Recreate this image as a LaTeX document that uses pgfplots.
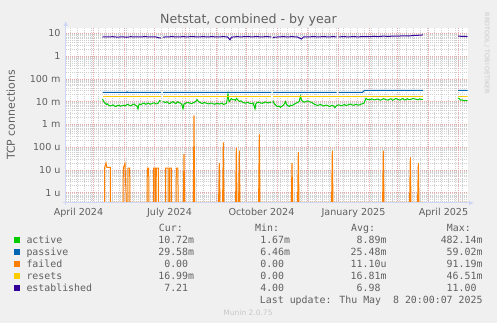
\documentclass[border=0pt]{standalone}
\usepackage{fontspec}
\setmainfont{DejaVu Sans}
\newfontfamily\monofont{DejaVu Sans Mono}
\usepackage{pgfplots}
\pgfplotsset{compat=1.18}
\usetikzlibrary{arrows.meta}
\definecolor{bgc}{HTML}{F0F0F0}
\definecolor{fontc}{HTML}{606060}
\definecolor{axisc}{HTML}{CFD6F8}
\definecolor{mgrid}{HTML}{E8A8A8}
\definecolor{mingrid}{HTML}{D0D0D0}
\definecolor{faint}{HTML}{C8C8C8}
\definecolor{cactive}{HTML}{00CC00}
\definecolor{cpassive}{HTML}{0066B3}
\definecolor{cfailed}{HTML}{FF8000}
\definecolor{cresets}{HTML}{FFCC00}
\definecolor{cestab}{HTML}{330099}
\newcommand\lf{\monofont\fontsize{9.9bp}{12bp}\selectfont}
\begin{document}
\begin{tikzpicture}
\fill[bgc] (0,0) rectangle (497bp,323bp);
\useasboundingbox (0,0) rectangle (497bp,323bp);
\begin{axis}[
  at={(65.7bp,120bp)}, anchor=south west, scale only axis,
  width=402bp, height=175bp,
  xmin=2.2, xmax=404.2,
  ymode=log, ymin=3.5e-7, ymax=17.1,
  axis line style={draw=none},
  axis background/.style={fill=white},
  xtick={15,106,198,290,380},
  xticklabels={April 2024,July 2024,October 2024,January 2025,April 2025},
  xmajorgrids=false,
  minor xtick={0,7,...,406}, xminorgrids=true,
  extra x ticks={0,30,61,91,122,153,183,214,244,275,306,334,365,395},
  extra x tick labels={},
  extra x tick style={grid=major},
  ytick={1e-6,1e-5,1e-4,1e-3,1e-2,1e-1,1,10},
  yticklabels={1 u,10 u,100 u,1 m,10 m,100 m,1\hspace{7bp},10\hspace{7bp}},
  minor ytick={4e-7,5e-7,6e-7,7e-7,8e-7,9e-7,2e-6,3e-6,4e-6,5e-6,6e-6,7e-6,8e-6,9e-6,2e-5,3e-5,4e-5,5e-5,6e-5,7e-5,8e-5,9e-5,2e-4,3e-4,4e-4,5e-4,6e-4,7e-4,8e-4,9e-4,2e-3,3e-3,4e-3,5e-3,6e-3,7e-3,8e-3,9e-3,0.02,0.03,0.04,0.05,0.06,0.07,0.08,0.09,0.2,0.3,0.4,0.5,0.6,0.7,0.8,0.9,2,3,4,5,6,7,8,9},
  ymajorgrids=true, yminorgrids=true,
  major grid style={mgrid, dash pattern=on 1bp off 1bp, line width=0.6bp},
  minor grid style={mingrid, dash pattern=on 1bp off 1bp, line width=0.6bp},
  major tick length=0pt, minor tick length=0pt,
  tick label style={font=\fontsize{9.6bp}{11bp}\selectfont, color=fontc},
  yticklabel style={inner sep=0pt, anchor=east, xshift=-5bp},
  xticklabel style={inner sep=0pt, anchor=north, yshift=-5.3bp},
  unbounded coords=jump,
  every axis plot/.append style={line width=1bp},
]
% active
\addplot[cactive] coordinates {(39,13e-3)(40,10.5e-3)(41,9e-3)(42,8.1e-3)(43,7.5e-3)(44,7.9e-3)(45,7e-3)(46.5,6.5e-3)(48,6.6e-3)(49.5,7.2e-3)(51,6.4e-3)(52.5,6.1e-3)(54,6.8e-3)(55.5,6.9e-3)(57,6.3e-3)(58.5,6.6e-3)(60,6.9e-3)(61.5,6.4e-3)(63,7.2e-3)(64.5,7.5e-3)(66,6.8e-3)(67.5,6.5e-3)(69,7.4e-3)(70.5,7.8e-3)(72,6.9e-3)(73.5,6.4e-3)(74.5,4.8e-3)(75.3,7.1e-3)(76,7.8e-3)(77.5,7.3e-3)(79,8.2e-3)(80.5,8.6e-3)(82,7.6e-3)(83.5,8e-3)(85,8.5e-3)(86.5,7.7e-3)(88,7.9e-3)(89.5,8.6e-3)(91,8.8e-3)(92.5,7.9e-3)(94,8.1e-3)(95,9e-3)(96,11e-3)(97.3,10.5e-3)(98,nan)
(99.3,10e-3)(100.5,9.6e-3)(102,9.2e-3)(103.5,9.8e-3)(105,8.6e-3)(106.5,8.2e-3)(108,9.4e-3)(109.5,9.9e-3)(111,8.7e-3)(112.5,8.3e-3)(114,9.8e-3)(115.5,9.1e-3)(117,8.4e-3)(118.3,7.6e-3)(119.5,4.8e-3)(120.5,7.9e-3)(122,8.3e-3)(123.5,9.2e-3)(125,9e-3)(126.5,8.5e-3)(128,8.1e-3)(129.5,8.8e-3)(131,9.3e-3)(132.3,10.2e-3)(133.5,12.2e-3)(134.8,10.4e-3)(136,9.5e-3)(137.5,8.7e-3)(139,8.2e-3)(140.5,9.1e-3)(142,8.8e-3)(143.5,8.2e-3)(145,7.9e-3)(146.5,8.4e-3)(148,8.6e-3)(149.5,8e-3)(151,7.6e-3)(152.5,8.1e-3)(154,8.4e-3)(155.5,7.8e-3)(157,8e-3)(158.5,8.5e-3)(160,7.5e-3)(161.5,7.9e-3)(163,8.2e-3)(164.5,22e-3)(165.3,11e-3)(166,10e-3)(167,12.5e-3)(168,13.5e-3)(169.5,11.8e-3)(171,12.4e-3)(172,11.2e-3)(173,13.8e-3)(174.5,11.6e-3)(176,10.2e-3)(177.5,10.8e-3)(179,9.4e-3)(180.5,8.9e-3)(182,8.5e-3)(183.5,9.3e-3)(185,8.9e-3)(186.5,8.3e-3)(188,8.2e-3)(189.5,8.8e-3)(191.5,4.8e-3)(192.3,7.9e-3)(193,8.6e-3)(194.5,9.4e-3)(196,9.2e-3)(197.5,8.6e-3)(199,8.4e-3)(200.5,9.1e-3)(202,9.6e-3)(203.5,9e-3)(205,8.8e-3)(206.5,9.5e-3)(207.8,9.1e-3)(208.5,nan)
(209.3,11e-3)(210.5,8.4e-3)(212,7.2e-3)(213,6.5e-3)(214,6e-3)(215.5,6.4e-3)(217,5.6e-3)(218.5,6.3e-3)(220,7e-3)(221,8.2e-3)(222,10e-3)(223,7.5e-3)(224,6.8e-3)(225,6.4e-3)(226,6.2e-3)(227,7e-3)(228,6.6e-3)(229.5,7.1e-3)(231,7.8e-3)(232.5,8.4e-3)(234,9.2e-3)(235.5,9.8e-3)(237,17e-3)(238,11.5e-3)(239,10.5e-3)(240.5,9.4e-3)(242,9.8e-3)(243.5,10.6e-3)(245,10.3e-3)(246.5,9.6e-3)(248,9.4e-3)(249.5,8.4e-3)(251,7.6e-3)(252.5,7.2e-3)(254,6.8e-3)(255.5,7.1e-3)(257,7.4e-3)(258.5,6.9e-3)(260,6.4e-3)(261.5,6.8e-3)(263,7e-3)(264.5,6.6e-3)(266,6.1e-3)(267.5,6.5e-3)(269,6.9e-3)(270.3,6.2e-3)(271.5,5.4e-3)(272.3,6.1e-3)(273,6.5e-3)(274,6.9e-3)(275,7.2e-3)(276.5,6.9e-3)(278,6.6e-3)(279.5,7e-3)(281,7.4e-3)(282.5,6.8e-3)(284,7e-3)(285.5,7.4e-3)(287,7.8e-3)(288.5,7.2e-3)(290,6.9e-3)(291.5,7.3e-3)(293,7.6e-3)(294.5,7e-3)(296,7.2e-3)(297.5,7.7e-3)(299,8e-3)(300.5,8.6e-3)(302.5,13.8e-3)(303.8,12.4e-3)(305,12.6e-3)(306.5,11.9e-3)(308,13.2e-3)(309.5,12.5e-3)(311,11.8e-3)(312.5,12.4e-3)(314,12.9e-3)(315.5,12.2e-3)(317,11.6e-3)(318.5,12.3e-3)(320,13.4e-3)(321.5,12.6e-3)(323,12.1e-3)(324.5,11.5e-3)(326,12.8e-3)(327.5,13.3e-3)(329,11.4e-3)(330.5,12.1e-3)(332,13.6e-3)(333.5,12.9e-3)(335,12.2e-3)(336.5,11.6e-3)(338,12.9e-3)(339.5,13.5e-3)(341,11.7e-3)(342.5,12.4e-3)(344,13.3e-3)(345.5,12.1e-3)(347,12.4e-3)(348.5,13.1e-3)(350,13.9e-3)(351.5,12.8e-3)(353,12.6e-3)(354.5,11.9e-3)(356,13.1e-3)(357.5,12.5e-3)(359.5,12.4e-3)(377,nan)(394.5,14.5e-3)(396,13.2e-3)(397,11.5e-3)(398.5,11.9e-3)(400,11e-3)(402,11.3e-3)(404,10.7e-3)};
% passive
\addplot[cpassive] coordinates {(39,25.5e-3)(63,25.5e-3)(63.5,27e-3)(64,25.5e-3)(97.3,25.5e-3)(98,nan)(99.3,25.5e-3)(207.8,25.5e-3)(208.5,nan)(209.3,25.5e-3)(273,25.5e-3)(274,nan)(275,25.5e-3)(299,25.5e-3)(301,31e-3)(359.5,31e-3)(377,nan)(394.5,31e-3)(404,31e-3)};
% failed
\addplot[cfailed] coordinates {(39,3.7e-7)(41,3.7e-7)(41.2,13e-6)(42.5,20e-6)(43.3,13e-6)(46.8,13e-6)(47,3.7e-7)(59.6,3.7e-7)(59.8,12e-6)(61.5,19e-6)(62.8,3.7e-7)(64.3,3.7e-7)(64.5,12e-6)(66.2,12e-6)(66.4,3.7e-7)(83.6,3.7e-7)(83.8,12e-6)(85.2,12e-6)(85.4,3.7e-7)(90,3.7e-7)(90.2,12e-6)(91.6,12e-6)(91.8,3.7e-7)(92.6,3.7e-7)(92.8,12e-6)(94.8,12e-6)(95,3.7e-7)(102,3.7e-7)(102.2,12e-6)(104.5,12e-6)(104.7,3.7e-7)(106,3.7e-7)(106.2,12e-6)(107.8,12e-6)(108,3.7e-7)(112.6,3.7e-7)(112.8,12e-6)(114.4,12e-6)(114.6,3.7e-7)(119.8,3.7e-7)(120.5,50e-6)(121.2,3.7e-7)(129.8,3.7e-7)(130.5,2.5e-3)(131.2,3.7e-7)(155.1,3.7e-7)(155.8,20e-6)(156.5,3.7e-7)(159.1,3.7e-7)(159.8,160e-6)(160.5,3.7e-7)(172.1,3.7e-7)(172.8,90e-6)(173.5,3.7e-7)(175.1,3.7e-7)(175.8,70e-6)(176.5,3.7e-7)(195.1,3.7e-7)(195.8,360e-6)(196.5,3.7e-7)(227.8,3.7e-7)(228.5,20e-6)(229.2,3.7e-7)(234.1,3.7e-7)(234.8,60e-6)(235.5,3.7e-7)(268.1,3.7e-7)(268.8,70e-6)(269.5,3.7e-7)(319.1,3.7e-7)(319.8,70e-6)(320.5,3.7e-7)(346.1,3.7e-7)(346.8,35e-6)(347.5,3.7e-7)(354.1,3.7e-7)(354.8,20e-6)(355.5,3.7e-7)(359.5,3.7e-7)(377,nan)(394.5,3.7e-7)(404,3.7e-7)};
% resets
\addplot[cresets] coordinates {(39,16.8e-3)(97.3,16.8e-3)(98,nan)(99.3,16.8e-3)(207.8,16.8e-3)(208.5,nan)(209.3,16.8e-3)(359.5,16.8e-3)(377,nan)(394.5,16.8e-3)(404,16.8e-3)};
% established
\addplot[cestab] coordinates {(39,7)(44,6.9)(49,7.1)(54,6.8)(59,7)(63,6.7)(67,7.1)(72,6.9)(77,7)(82,7.1)(87,6.9)(92,7)(95,6.4)(97.3,6.2)(98,nan)(99.3,6.8)(104,7)(109,7.1)(114,6.9)(119,7.1)(124,7)(129,7.2)(134,6.9)(139,7.1)(144,7)(149,7.1)(154,6.9)(159,7.1)(164,7)(166.5,5.2)(168,6.8)(173,7.1)(178,7)(183,7.2)(188,7)(193,7.1)(198,7)(203,7.1)(207.8,7)(208.5,nan)(209.3,6.6)(214,6.9)(219,7.1)(224,7)(229,7.1)(234,6.9)(238,5.6)(240,6.9)(245,7)(250,7.1)(255,7)(260,7.1)(265,7)(270,7.1)(273,7)(274,nan)(275,7)(280,7.1)(285,7)(290,7.1)(295,7)(300,7.2)(305,7.1)(310,7.3)(315,7.2)(320,7.5)(325,7.3)(330,7.6)(335,7.5)(340,7.8)(345,7.6)(350,8)(355,8.2)(359.5,8.5)(377,nan)(394.5,7.5)(404,7.2)};
\end{axis}
% axis lines with arrows
\draw[axisc, line width=1bp, -{Latex[length=5bp,width=5bp]}] (65.7bp,118bp) -- (65.7bp,302bp);
\draw[axisc, line width=1bp, -{Latex[length=5bp,width=5bp]}] (63bp,120bp) -- (474bp,120bp);
% titles
\node[anchor=base, inner sep=0pt, font=\fontsize{12.6bp}{14bp}\selectfont, text=fontc] at (248.5bp,299.8bp) {Netstat, combined - by year};
\node[rotate=90, inner sep=0pt, font=\fontsize{10.9bp}{12bp}\selectfont, text=fontc] at (10.8bp,208bp) {TCP connections};
\node[rotate=-90, inner sep=0pt, font=\fontsize{6.3bp}{7bp}\selectfont, text=faint] at (487bp,269.5bp) {RRDTOOL / TOBI OETIKER};
% legend
\begin{scope}[every node/.style={inner sep=0pt, text=fontc, font=\lf}]
\node[anchor=base west] at (158.7bp,91.7bp) {Cur:};
\node[anchor=base west] at (255bp,91.7bp) {Min:};
\node[anchor=base west] at (351bp,91.7bp) {Avg:};
\node[anchor=base west] at (446.7bp,91.7bp) {Max:};
\foreach \y/\c/\n/\cu/\mi/\av/\ma in {
  79.7/cactive/active/10.72m/1.67m/8.89m/482.14m,
  67.7/cpassive/passive/29.58m/6.46m/25.48m/59.02m,
  55.7/cfailed/failed/0.00\hphantom{m}/0.00\hphantom{m}/11.10u/91.19m,
  43.7/cresets/resets/16.99m/0.00\hphantom{m}/16.81m/46.51m,
  31.7/cestab/established/7.21\hphantom{m}/4.00\hphantom{m}/6.98\hphantom{m}/11.00\hphantom{m}}{
  \fill[\c] (14bp,\y bp+0.6bp) rectangle (19.6bp,\y bp+6bp);
  \node[anchor=base west] at (26.3bp,\y bp) {\n};
  \node[anchor=base east] at (194.3bp,\y bp) {\cu};
  \node[anchor=base east] at (290.3bp,\y bp) {\mi};
  \node[anchor=base east] at (386.7bp,\y bp) {\av};
  \node[anchor=base east] at (482.7bp,\y bp) {\ma};
}
\node[anchor=base east] at (482.7bp,19.7bp) {Last update: Thu May\hphantom{0} 8 20:00:07 2025};
\end{scope}
\node[anchor=base, inner sep=0pt, font=\fontsize{7.5bp}{9bp}\selectfont, text=faint] at (248bp,8bp) {Munin 2.0.75};
\end{tikzpicture}
\end{document}
